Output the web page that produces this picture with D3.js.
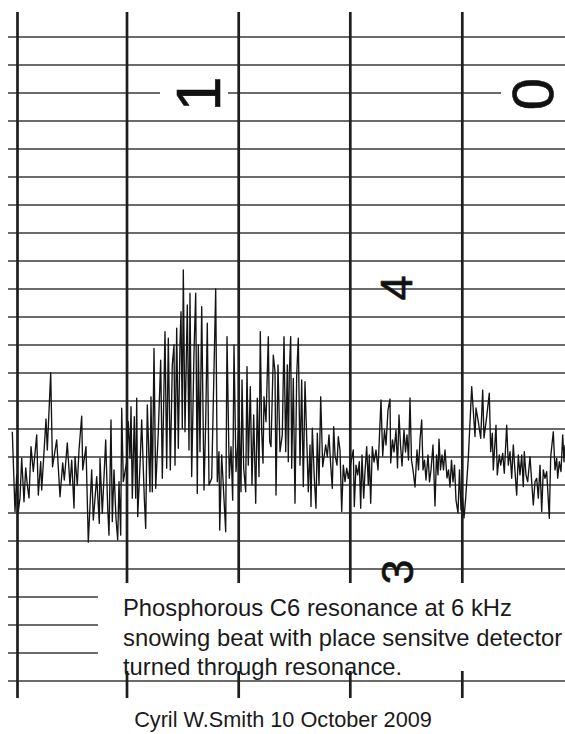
<!DOCTYPE html>
<html>
<head>
<meta charset="utf-8">
<script src="https://d3js.org/d3.v7.min.js"></script>
<style>
  body { margin: 0; background: #fff; }
  svg { display: block; font-family: "Liberation Sans", Arial, sans-serif; }
</style>
</head>
<body>
<svg></svg>
<script>
const width = 565, height = 734;

// chart paper rules, in divisions of the recorder scale
const rules = d3.range(18, -6, -1);          // 18 ... -5
const shortRules = [-2, -3, -4];
// time marks on the paper (chart time units)
const timeMarks = [7.5, 117, 228.7, 340.3, 452.3];
// printed scale numbers on the paper
const paperNumbers = ["1", "0", "4", "3"];

const caption = [
  "Phosphorous C6 resonance at 6 kHz",
  "snowing beat with place sensitve detector",
  "turned through resonance."
];
const credit = "Cyril W.Smith 10 October 2009";

// recorder trace: [time, deflection in divisions]
const trace = [
  [2.3,3.90],[5,1.05],[6.7,2.36],[8.3,1.05],[10,1.54],[11.7,2.96],[14,1.40],[15.7,2.61],[17.3,2.00],[19,1.54],
  [21,3.37],[23.3,2.48],[26.7,3.79],[28.3,1.64],[30.7,2.83],[31.7,1.82],[36,4.36],[37.3,3.25],[40.7,6.01],[42.5,2.65],
  [46.7,3.61],[50,1.58],[52.7,2.79],[54.3,2.18],[57.3,3.50],[60,2.00],[61.7,2.89],[64,1.18],[65,3.01],[67.3,2.00],
  [69,3.25],[71.7,4.46],[72.7,2.54],[76,3.37],[78.3,-0.04],[81.7,2.54],[83.3,0.75],[86.7,2.30],[89.3,0.63],[90,2.95],
  [92.3,0.99],[95.7,3.61],[97.7,1.17],[99,0.21],[101,4.32],[102.3,0.69],[104,2.54],[106,0.81],[107.7,0.04],[109,2.12],
  [110.7,0.21],[111.7,4.74],[113.3,2.12],[116.7,2.83],[118.3,4.26],[120,2.95],[121,4.80],[122.3,1.53],[124.3,4.44],[125.7,1.53],
  [126.7,5.10],[127.7,0.87],[130,2.71],[131.7,4.32],[134.3,1.53],[135.7,0.45],[137.3,4.86],[140,1.76],[141,5.15],[142.3,1.76],
  [144,6.88],[145.7,1.88],[148.3,3.90],[150.7,6.46],[152.3,2.24],[155,7.48],[156.7,2.60],[158.3,7.24],[160.3,2.54],[162.3,6.29],
  [164,7.00],[165,2.71],[166.7,7.60],[168.3,3.31],[170,7.06],[171,8.19],[172.3,4.03],[173.3,9.68],[175,3.90],[177.3,8.43],
  [179,3.25],[180,8.85],[181.7,2.30],[184,6.76],[185.7,8.85],[187.3,1.70],[188.3,7.00],[190,3.19],[191.7,8.37],[194,1.82],
  [195.7,4.26],[197.3,7.78],[199,2.00],[201.7,2.24],[205.7,9.00],[207.3,2.12],[209,3.19],[209.7,0.39],[211.7,3.07],[215.7,0.33],
  [217,7.30],[219.3,2.24],[221,3.37],[222.7,1.46],[224,7.00],[226,2.48],[227.3,3.19],[229.3,4.38],[231,1.76],[232,5.75],
  [233.7,2.60],[235.7,1.76],[237,6.23],[238.3,2.71],[240.3,5.51],[242,2.00],[243.7,4.50],[245.7,1.35],[247.3,5.10],[249,2.30],
  [250.3,7.48],[251.7,3.90],[253,2.78],[254,5.15],[256,4.26],[258.3,7.30],[259.7,3.55],[261,3.37],[263.3,6.64],[265,6.05],
  [266,1.64],[268,6.29],[270,3.19],[272.3,3.79],[274,7.30],[275.7,3.19],[277.3,6.29],[278.3,2.83],[279.3,5.99],[280.7,7.30],
  [281.7,2.60],[283.3,5.81],[285,1.35],[286.7,5.93],[288.3,7.24],[290,2.71],[291.7,5.75],[293.3,1.94],[295,5.69],[296.7,3.67],
  [298.3,1.76],[300,3.43],[301,1.23],[302.3,4.03],[304.3,2.24],[306,1.17],[307.3,3.85],[309,2.00],[310.7,5.15],[312.7,2.65],
  [315.7,3.43],[317.3,3.01],[319,3.79],[320.7,2.71],[322.3,1.88],[323.7,4.08],[325,3.07],[327,2.71],[328.3,3.73],[330,3.25],
  [331.7,1.05],[333.3,2.71],[335,2.12],[336.7,2.60],[338.3,2.24],[340,2.65],[341.7,2.95],[343.3,3.25],[344.3,1.23],[346,2.71],
  [347.7,2.36],[349.3,2.83],[350.7,1.17],[352,3.07],[353.7,1.53],[355,2.48],[356.7,3.37],[358.3,2.00],[359.3,3.07],[360.7,1.35],
  [362.3,3.37],[364,2.82],[366,3.25],[368,2.54],[371,5.04],[372.7,3.04],[374.5,3.96],[376,3.43],[378,4.68],[380,5.07],
  [380.7,2.79],[382.5,3.61],[384,3.18],[386,3.96],[387.5,2.61],[389,4.50],[390.5,3.43],[392,2.68],[394,3.96],[395.5,3.18],
  [397,3.79],[398.5,2.89],[400,5.11],[401.5,2.89],[403,2.54],[405,1.93],[407,3.25],[408.5,2.54],[410,3.61],[411.7,4.32],
  [413,2.54],[414.5,2.89],[416,2.18],[418,3.07],[419.5,2.11],[421,2.54],[423,3.43],[425,1.25],[426.5,3.07],[428,2.36],
  [429,3.64],[430.5,2.54],[432,3.07],[433.5,2.54],[435,3.25],[437,2.25],[438.5,2.54],[440,1.93],[441.5,2.89],[443,2.11],
  [444.5,2.71],[446,1.46],[448,1.00],[449.5,2.54],[451,1.11],[452.5,1.54],[454,0.82],[455.7,1.54],[458.3,2.96],[461.7,5.51],
  [465,3.73],[466,4.75],[468.3,4.26],[470.7,3.67],[472.7,5.39],[474,3.68],[476.7,4.44],[479.3,5.28],[480.7,3.19],[482.3,3.85],
  [483.3,2.54],[486,4.14],[487.3,2.36],[489.3,3.07],[490.7,2.71],[492.7,3.13],[494.3,2.42],[496.7,4.14],[498.3,2.71],[500,3.19],
  [501.7,2.24],[503.3,3.43],[505,2.48],[506.7,1.64],[508.3,3.07],[510,2.36],[511.7,3.07],[513.3,1.94],[514.3,3.19],[516,2.36],
  [517.7,2.12],[520,3.01],[521.7,2.12],[523.3,1.29],[525,2.12],[526.7,2.24],[528.3,1.53],[530,2.71],[531.7,1.05],[533.3,2.54],
  [535,2.24],[536.7,2.48],[539.3,0.81],[540.7,3.01],[543.3,3.90],[545,2.54],[546.7,2.95],[547.7,2.24],[549.3,2.83],[551,2.48],
  [552.7,3.79],[554,2.83],[555,3.43]
];

const svg = d3.select("svg")
    .attr("width", width)
    .attr("height", height);

svg.append("rect").attr("width", width).attr("height", height).attr("fill", "#fff");

const x = d3.scaleLinear().domain([0, 555]).range([10, 565]);
const y = d3.scaleLinear().domain([-5, 18]).range([681, 37]);

// horizontal rules
svg.append("g")
    .selectAll("line")
    .data(rules)
    .join("line")
    .attr("x1", 8)
    .attr("x2", d => shortRules.includes(d) ? 98 : width)
    .attr("y1", d => y(d))
    .attr("y2", d => y(d))
    .attr("stroke", "#3a3a3a")
    .attr("stroke-width", 1.6);

// vertical time marks: long upper part and a short foot below the caption
const vg = svg.append("g").attr("stroke", "#1e1e1e").attr("stroke-width", 2.7);
vg.selectAll("line.up")
    .data(timeMarks)
    .join("line")
    .attr("class", "up")
    .attr("x1", d => x(d)).attr("x2", d => x(d))
    .attr("y1", 12)
    .attr("y2", (d, i) => i === 0 ? 698 : 583);
vg.selectAll("line.foot")
    .data(timeMarks.slice(1))
    .join("line")
    .attr("class", "foot")
    .attr("x1", d => x(d)).attr("x2", d => x(d))
    .attr("y1", 671)
    .attr("y2", 698);

// trace
const line = d3.line().x(d => x(d[0])).y(d => y(d[1]));
svg.append("path")
    .datum(trace)
    .attr("d", line)
    .attr("fill", "none")
    .attr("stroke", "#141414")
    .attr("stroke-width", 1.35)
    .attr("stroke-linejoin", "round");

// printed paper numbers (rotated as on the roll)
const numPos = [
  {cx: 220, cy: 94, size: 63, gap: [160, 228]},
  {cx: 553, cy: 94, size: 58, gap: [501, 565]},
  {cx: 412, cy: 288, size: 45, gap: null},
  {cx: 413, cy: 572, size: 45, gap: null}
];
paperNumbers.forEach((n, i) => {
  const p = numPos[i];
  if (p.gap) {
    svg.append("rect")
        .attr("x", p.gap[0]).attr("width", p.gap[1] - p.gap[0])
        .attr("y", p.cy - 14).attr("height", 28)
        .attr("fill", "#fff");
  }
  svg.append("text")
      .attr("transform", `translate(${p.cx},${p.cy}) rotate(-90)`)
      .attr("text-anchor", "middle")
      .attr("font-size", p.size)
      .attr("fill", "#111")
      .attr("stroke", "#111")
      .attr("stroke-width", 0.6)
      .text(n);
});

// caption
svg.append("g")
    .selectAll("text")
    .data(caption)
    .join("text")
    .attr("x", 123)
    .attr("y", (d, i) => 616 + i * 29.5)
    .attr("font-size", 23.8)
    .attr("fill", "#1a1a1a")
    .text(d => d);

svg.append("text")
    .attr("x", 283)
    .attr("y", 727)
    .attr("text-anchor", "middle")
    .attr("font-size", 21.7)
    .attr("fill", "#1a1a1a")
    .text(credit);
</script>
</body>
</html>
